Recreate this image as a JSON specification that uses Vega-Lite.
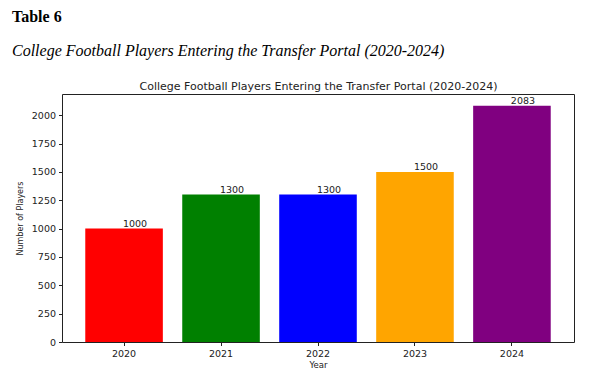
{
  "$schema": "https://vega.github.io/schema/vega-lite/v6.json",
  "width": 512,
  "height": 248,
  "autosize": {"type": "none"},
  "padding": {"left": 62, "top": 94, "right": 28, "bottom": 28},
  "background": "white",
  "title": {
    "text": "Table 6",
    "subtitle": "College Football Players Entering the Transfer Portal (2020-2024)",
    "anchor": "start",
    "frame": "group",
    "dx": -50,
    "font": "Liberation Serif",
    "fontSize": 16,
    "fontWeight": "bold",
    "color": "black",
    "subtitleFont": "Liberation Serif",
    "subtitleFontSize": 16,
    "subtitleFontStyle": "italic",
    "subtitleColor": "black",
    "subtitlePadding": 18,
    "offset": 21
  },
  "data": {
    "values": [
      {"Year": "2020", "Players": 1000},
      {"Year": "2021", "Players": 1300},
      {"Year": "2022", "Players": 1300},
      {"Year": "2023", "Players": 1500},
      {"Year": "2024", "Players": 2083}
    ]
  },
  "encoding": {
    "x": {
      "field": "Year",
      "type": "ordinal",
      "scale": {"paddingInner": 0.2, "paddingOuter": 0.24},
      "axis": {
        "orient": "bottom",
        "title": "Year",
        "labelAngle": 0,
        "ticks": true,
        "tickSize": 3.5,
        "tickColor": "#222",
        "labelFont": "DejaVu Sans",
        "labelFontSize": 9.5,
        "labelColor": "#222",
        "labelPadding": 3,
        "titleFont": "DejaVu Sans",
        "titleFontSize": 8.5,
        "titleFontWeight": "normal",
        "titleColor": "#222",
        "titlePadding": 2
      }
    },
    "y": {
      "field": "Players",
      "type": "quantitative",
      "scale": {"domain": [0, 2187], "nice": false},
      "axis": {
        "title": "Number of Players",
        "format": "d",
        "values": [0, 250, 500, 750, 1000, 1250, 1500, 1750, 2000],
        "tickSize": 3.5,
        "tickColor": "#222",
        "labelFont": "DejaVu Sans",
        "labelFontSize": 9.5,
        "labelColor": "#222",
        "labelPadding": 3,
        "titleFont": "DejaVu Sans",
        "titleFontSize": 8,
        "titleFontWeight": "normal",
        "titleColor": "#222",
        "titlePadding": 7
      }
    }
  },
  "layer": [
    {
      "mark": {"type": "bar"},
      "encoding": {
        "color": {
          "field": "Year",
          "type": "nominal",
          "scale": {
            "domain": ["2020", "2021", "2022", "2023", "2024"],
            "range": ["red", "green", "blue", "orange", "purple"]
          },
          "legend": null
        }
      }
    },
    {
      "mark": {
        "type": "text",
        "baseline": "bottom",
        "align": "center",
        "dx": 11,
        "dy": 0,
        "font": "DejaVu Sans",
        "fontSize": 9.5,
        "color": "#222"
      },
      "encoding": {
        "text": {"field": "Players", "type": "quantitative", "format": "d"},
        "x": {
          "field": "Year",
          "type": "ordinal",
          "axis": {
            "orient": "top",
            "title": "College Football Players Entering the Transfer Portal (2020-2024)",
            "labels": false,
            "ticks": false,
            "domain": false,
            "titleFont": "DejaVu Sans",
            "titleFontSize": 11,
            "titleFontWeight": "normal",
            "titleColor": "#222",
            "titlePadding": 3
          }
        }
      }
    }
  ],
  "resolve": {"axis": {"x": "independent"}},
  "config": {
    "view": {"stroke": "#222", "strokeWidth": 1},
    "axis": {"domain": false, "grid": false}
  }
}
